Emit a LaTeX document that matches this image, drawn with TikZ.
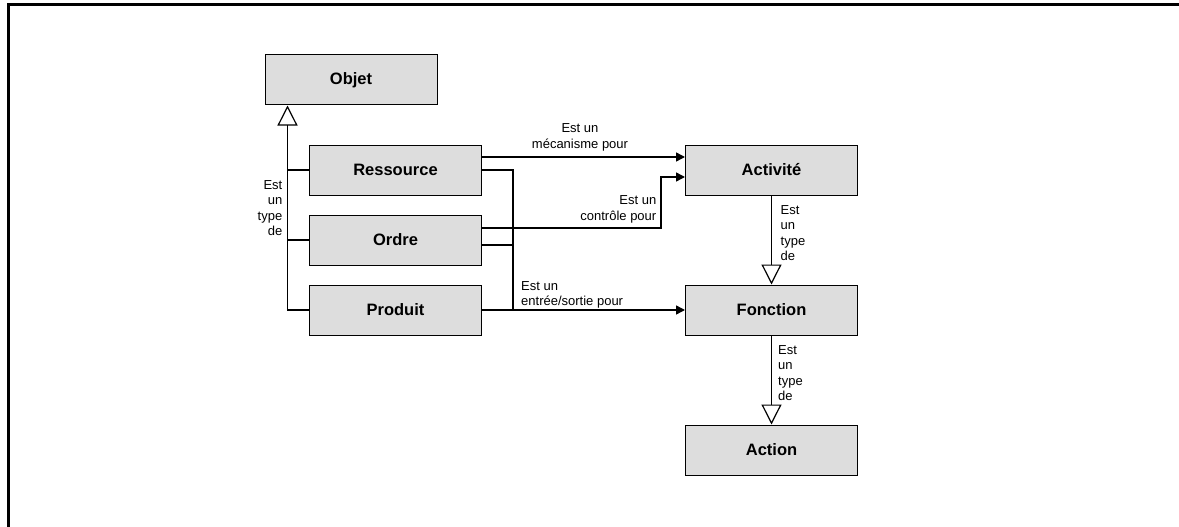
\documentclass[tikz,border=0pt]{standalone}
\usepackage{fontspec}
\setmainfont{Liberation Sans}
\usetikzlibrary{arrows.meta}
\definecolor{boxgray}{HTML}{DDDDDD}
\tikzset{
  box/.style={draw, fill=boxgray, line width=1pt, minimum width=172pt, minimum height=50pt, inner sep=0pt,
    font=\bfseries\fontsize{16.5}{19}\selectfont},
  lbl/.style={inner sep=0pt, font=\fontsize{13}{15.5}\selectfont},
  conn/.style={line width=1.4pt},
  assoc/.style={conn, -{Triangle[length=9pt,width=9pt]}},
  isa/.style={line width=1.2pt, -{Triangle[open, fill=white, length=20pt, width=20pt]}},
}
\begin{document}
\begin{tikzpicture}[x=1pt,y=-1pt]
\useasboundingbox (0,0) rectangle (1179,527);
\draw[line width=3pt, line join=miter] (8.5,527) -- (8.5,4.2) -- (1179,4.2);

\node[box] (objet) at (351,80) {Objet};
\node[box] (ressource) at (395.5,170) {Ressource};
\node[box] (ordre) at (395.5,240) {Ordre};
\node[box] (produit) at (395.5,310) {Produit};
\node[box] (activite) at (771.5,170) {Activité};
\node[box] (fonction) at (771.5,310) {Fonction};
\node[box] (action) at (771.5,450) {Action};

% inheritance to Objet
\coordinate (objtip) at ([xshift=23pt]objet.south west);
\draw[isa] (produit.west) -| (objtip);
\draw[line width=1.2pt] (ressource.west) -- (ressource.west -| objtip);
\draw[line width=1.2pt] (ordre.west) -- (ordre.west -| objtip);
\node[lbl, anchor=east, align=right] (lobj) at (282.5,208) {Est\\un\\type\\de};

% Ressource -> Activite
\coordinate (resout) at ([yshift=13pt]ressource.east);
\draw[assoc] (resout) -- (resout -| activite.west);
\node[lbl, align=center] (lmeca) at (580,137.5) {Est un\\mécanisme pour};

% junction line from Ressource down to Produit line
\coordinate (junc) at ([xshift=31pt]produit.east);
\draw[conn] (ressource.east) -| (junc);

% Ordre -> Activite
\coordinate (ordout) at ([yshift=12pt]ordre.east);
\coordinate (actin) at ([yshift=-7pt]activite.west);
\draw[assoc] (ordout) -| ([xshift=-24pt]actin) -- (actin);
\node[lbl, anchor=east, align=right] (lctrl) at (656.5,209.5) {Est un\\contrôle pour};
\coordinate (ordout2) at ([yshift=-5pt]ordre.east);
\draw[line width=1.1pt] (ordout2) -- ([xshift=1pt]ordout2 -| junc);

% Produit -> Fonction
\draw[assoc] (produit.east) -- (fonction.west);
\node[lbl, anchor=west, align=left] (lio) at (521,295) {Est un\\entrée/sortie pour};

% Activite -> Fonction, Fonction -> Action
\draw[isa] (activite.south) -- (fonction.north);
\node[lbl, anchor=west, align=left] (lact) at (780.5,233) {Est\\un\\type\\de};
\draw[isa] (fonction.south) -- (action.north);
\node[lbl, anchor=west, align=left] (lfon) at (778,373) {Est\\un\\type\\de};
\end{tikzpicture}
\end{document}
